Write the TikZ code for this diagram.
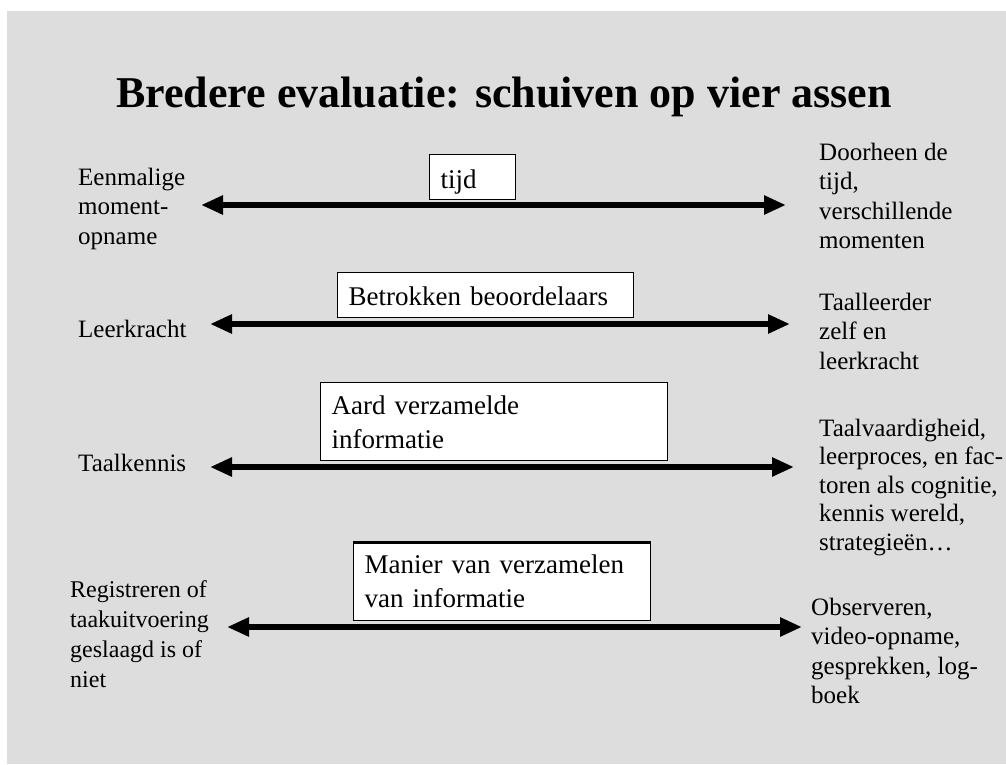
\documentclass[tikz,border=0pt]{standalone}
\usepackage{fontspec}
\setmainfont{Liberation Serif}
\usetikzlibrary{arrows.meta}
\definecolor{bggray}{HTML}{DDDDDD}
\newcommand\mylines[1]{\begin{tabular}[t]{@{}l@{}}#1\end{tabular}}
\begin{document}
\begin{tikzpicture}[x=1pt,y=-1pt,
  lbl/.style={anchor=base west, inner sep=0pt, font=\fontsize{25}{29.5}\selectfont},
  axis/.style={line width=6pt, {Triangle[length=22pt,width=18pt]}-{Triangle[length=22pt,width=18pt]}},
  boxnode/.style={draw=black, line width=1.3pt, fill=white, anchor=north west,
    inner xsep=11pt, inner ysep=0pt, align=left, font=\fontsize{27}{34}\selectfont},
  titlenode/.style={anchor=base, inner sep=0pt, font=\fontsize{44}{50}\selectfont\bfseries}]
\useasboundingbox (0,0) rectangle (1006,764);
\fill[bggray] (7,11) rectangle (1006,764);

\node[titlenode] (title) at (504,107) {Bredere evaluatie: schuiven op vier assen};

% axis end points
\coordinate (a1l) at (201,205); \coordinate (a1r) at (786,205);
\coordinate (a2l) at (210,324); \coordinate (a2r) at (790,324);
\coordinate (a3l) at (210,467); \coordinate (a3r) at (794,467);
\coordinate (a4l) at (227,627); \coordinate (a4r) at (802,627);
\draw[axis] (a1l) -- (a1r);
\draw[axis] (a2l) -- (a2r);
\draw[axis] (a3l) -- (a3r);
\draw[axis] (a4l) -- (a4r);

% boxes
\node[boxnode, text width=64pt, text height=34pt, text depth=11pt] (tijd) at (429,154) {tijd};
\node[boxnode, text width=274pt, text height=33pt, text depth=12pt] (betr) at (337,272) {Betrokken beoordelaars};
\node[boxnode, text width=325pt, text height=32pt, text depth=46pt] (aard) at (320,382) {Aard verzamelde\\informatie};
\node[boxnode, text width=275pt, text height=31pt, text depth=47pt] (manier) at (353,542) {Manier van verzamelen\\van informatie};
\draw[line width=3pt] (manier.north west) -- (manier.north east);

% left labels
\node[lbl] (eenm) at (78,185) {\mylines{Eenmalige\\moment-\\opname}};
\node[lbl] (leerk) at (78,337) {Leerkracht};
\node[lbl] (taalk) at (78,471) {Taalkennis};
\node[lbl, font=\fontsize{24}{30}\selectfont] (regis) at (70,597) {\mylines{Registreren of\\taakuitvoering\\geslaagd is of\\niet}};

% right labels
\node[lbl] (door) at (819,160) {\mylines{Doorheen de\\tijd,\\verschillende\\momenten}};
\node[lbl] (taalleer) at (819,310) {\mylines{Taalleerder\\zelf en\\leerkracht}};
\node[lbl, font=\fontsize{25}{28.5}\selectfont] (taalv) at (819,436) {\mylines{Taalvaardigheid,\\leerproces, en fac-\\toren als cognitie,\\kennis wereld,\\strategieën…}};
\node[lbl] (obs) at (811,615) {\mylines{Observeren,\\video-opname,\\gesprekken, log-\\boek}};
\end{tikzpicture}
\end{document}
